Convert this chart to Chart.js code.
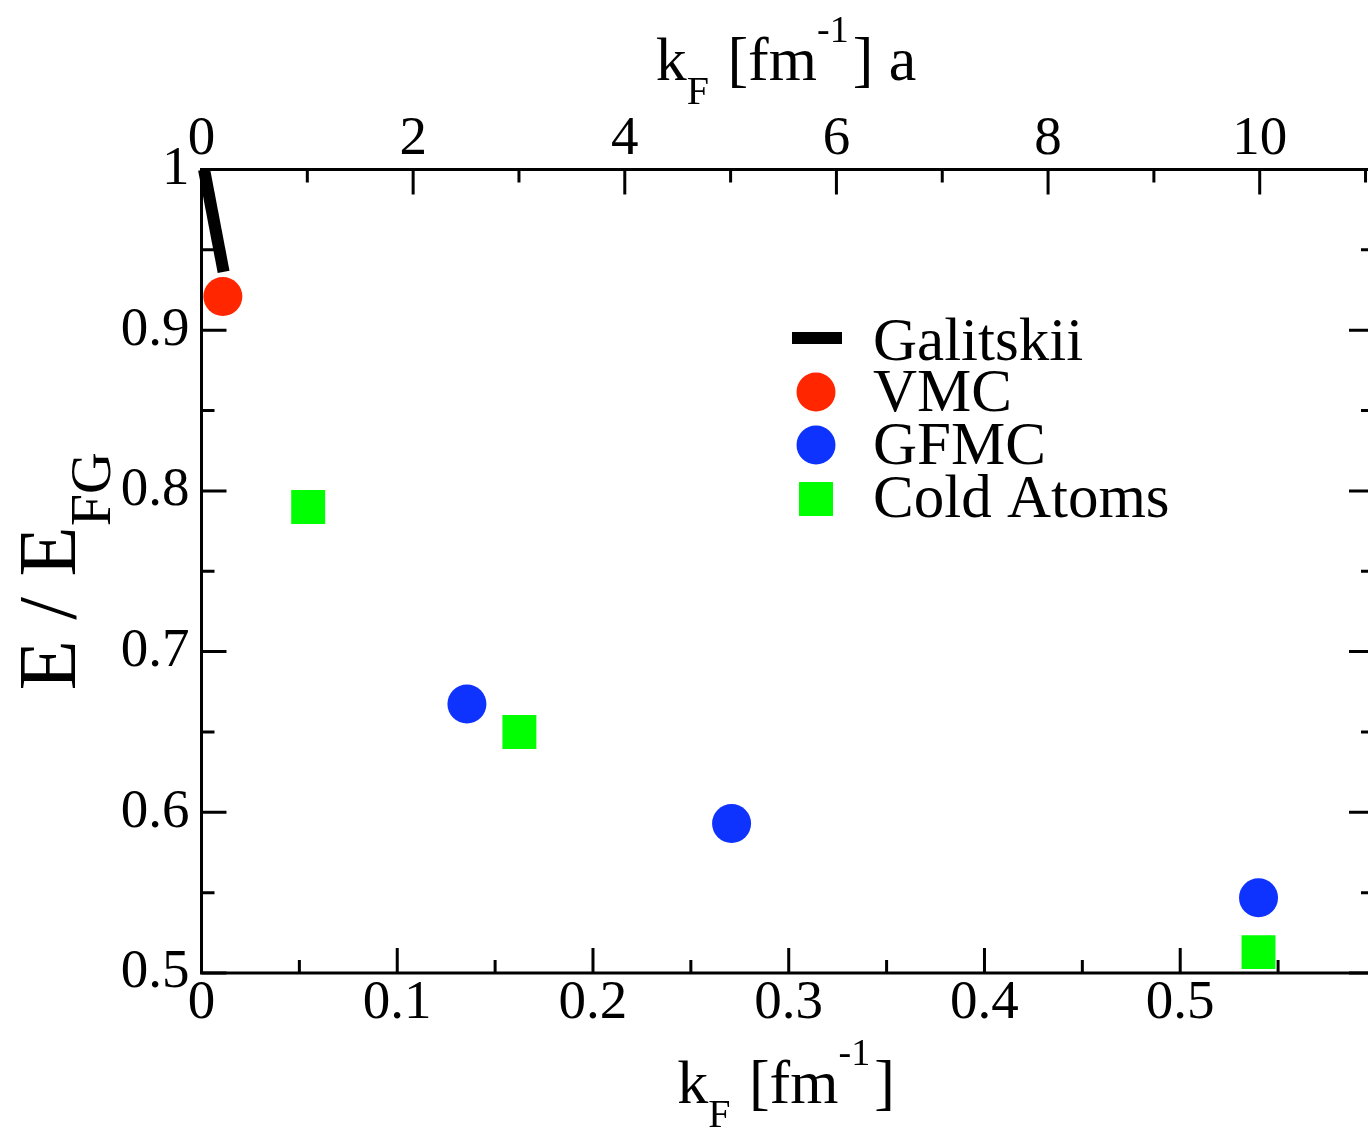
<!DOCTYPE html>
<html><head><meta charset="utf-8">
<style>
html,body{margin:0;padding:0;background:#fff;overflow:hidden;width:1368px;height:1129px}
#wrap{position:absolute;left:0;top:0;width:1398px;height:1129px}
</style>
<script src="https://cdn.jsdelivr.net/npm/chart.js@4.4.1/dist/chart.umd.min.js"></script>
</head><body><div id="wrap"><canvas id="c" width="1398" height="1129"></canvas></div>
<script>
// ---- data ----
const galitskiiX = [0.0013, 0.0113];
const galitskiiY = [1.0, 0.9363];
const vmcX = [0.0109];
const vmcY = [0.921];
const gfmcX = [0.1356, 0.2708, 0.540];
const gfmcY = [0.6674, 0.593, 0.5468];
const coldX = [0.0545, 0.1624, 0.540];
const coldY = [0.790, 0.650, 0.513];
const seriesNames = ['Galitskii', 'VMC', 'GFMC', 'Cold Atoms'];

const xTicks = [0, 0.1, 0.2, 0.3, 0.4, 0.5];
const xTickLabels = ['0', '0.1', '0.2', '0.3', '0.4', '0.5'];
const xMinor = [0.05, 0.15, 0.25, 0.35, 0.45, 0.55];
const topTicks = [0, 2, 4, 6, 8, 10];
const topTickLabels = ['0', '2', '4', '6', '8', '10'];
const topMinor = [1, 3, 5, 7, 9, 11];
const yTicks = [0.5, 0.6, 0.7, 0.8, 0.9, 1.0];
const yTickLabels = ['0.5', '0.6', '0.7', '0.8', '0.9', '1'];
const yMinor = [0.55, 0.65, 0.75, 0.85, 0.95];
const xMin = 0, xMax = 0.599, topMin = 0, topMax = 11.08, yMin = 0.5, yMax = 1.0;

const FONT = '"Liberation Serif", "Times New Roman", serif';
const toPts = (xs, ys) => xs.map((x, i) => ({x: x, y: ys[i]}));

function richWidth(ctx, parts) {
  let w = 0;
  for (const p of parts) { ctx.font = p.size + 'px ' + FONT; w += ctx.measureText(p.t).width + (p.gap || 0); }
  return w;
}
function drawRich(ctx, parts, cx, baseY) {
  const w = richWidth(ctx, parts);
  let x = cx - w / 2;
  ctx.textAlign = 'left'; ctx.textBaseline = 'alphabetic'; ctx.fillStyle = '#000';
  for (const p of parts) {
    ctx.font = p.size + 'px ' + FONT;
    ctx.fillText(p.t, x, baseY + (p.dy || 0));
    x += ctx.measureText(p.t).width + (p.gap || 0);
  }
}

const framePlugin = {
  id: 'frame',
  afterDatasetsDraw(chart) {
    const ctx = chart.ctx, a = chart.chartArea, s = chart.scales;
    ctx.save();
    ctx.strokeStyle = '#000'; ctx.lineWidth = 3; ctx.lineCap = 'butt';
    ctx.beginPath();
    ctx.rect(a.left, a.top, a.right - a.left, a.bottom - a.top);
    ctx.stroke();
    const MAJ = 25, MIN = 13;
    ctx.beginPath();
    const hx = (scale, vals, len, y0, dir) => vals.forEach(v => { const p = scale.getPixelForValue(v); ctx.moveTo(p, y0); ctx.lineTo(p, y0 + dir * len); });
    const vy = (scale, vals, len, x0, dir) => vals.forEach(v => { const p = scale.getPixelForValue(v); ctx.moveTo(x0, p); ctx.lineTo(x0 + dir * len, p); });
    hx(s.x, xTicks, MAJ, a.bottom, -1); hx(s.x, xMinor, MIN, a.bottom, -1);
    hx(s.x2, topTicks, MAJ, a.top, 1); hx(s.x2, topMinor, MIN, a.top, 1);
    vy(s.y, yTicks, MAJ, a.left, 1); vy(s.y, yMinor, MIN, a.left, 1);
    vy(s.y, yTicks, MAJ, a.right, -1); vy(s.y, yMinor, MIN, a.right, -1);
    ctx.stroke();
    ctx.restore();
  },
  afterDraw(chart) {
    const ctx = chart.ctx, a = chart.chartArea;
    ctx.save();
    const cx = 786;
    drawRich(ctx, [{t: 'k', size: 62}, {t: 'F', size: 40, dy: 24, gap: 3}, {t: ' [fm', size: 62}, {t: '-1', size: 38, dy: -38, gap: 4}, {t: '] a', size: 62}], cx, 80);
    drawRich(ctx, [{t: 'k', size: 62}, {t: 'F', size: 40, dy: 24, gap: 3}, {t: ' [fm', size: 62}, {t: '-1', size: 38, dy: -38, gap: 4}, {t: ']', size: 62}], cx, 1103);
    ctx.save();
    ctx.translate(75, (a.top + a.bottom) / 2);
    ctx.rotate(-Math.PI / 2);
    drawRich(ctx, [{t: 'E / E', size: 82}, {t: 'FG', size: 58, dy: 35}], 0, 0);
    ctx.restore();
    // legend
    const lx = 816, rows = [338, 392, 445, 499], tx = 873;
    ctx.strokeStyle = '#000'; ctx.lineWidth = 12;
    ctx.beginPath(); ctx.moveTo(792, rows[0]); ctx.lineTo(842, rows[0]); ctx.stroke();
    ctx.fillStyle = '#ff2600';
    ctx.beginPath(); ctx.arc(lx, rows[1], 19.5, 0, Math.PI * 2); ctx.fill();
    ctx.fillStyle = '#0f33ff';
    ctx.beginPath(); ctx.arc(lx, rows[2], 19.5, 0, Math.PI * 2); ctx.fill();
    ctx.fillStyle = '#00ff00';
    ctx.fillRect(lx - 17, rows[3] - 17, 34, 34);
    ctx.fillStyle = '#000'; ctx.font = '61px ' + FONT; ctx.textAlign = 'left'; ctx.textBaseline = 'alphabetic';
    const bases = [360, 411, 464, 517];
    seriesNames.forEach((n, i) => ctx.fillText(n, tx, bases[i]));
    ctx.restore();
  }
};

const tickFont = {family: FONT, size: 55};
new Chart(document.getElementById('c'), {
  type: 'scatter',
  data: {
    datasets: [
      {label: seriesNames[0], data: toPts(galitskiiX, galitskiiY), showLine: true, borderColor: '#000', borderWidth: 12, borderCapStyle: 'butt', pointRadius: 0, clip: false},
      {label: seriesNames[1], data: toPts(vmcX, vmcY), pointStyle: 'circle', pointRadius: 19.5, backgroundColor: '#ff2600', borderWidth: 0, clip: false},
      {label: seriesNames[2], data: toPts(gfmcX, gfmcY), pointStyle: 'circle', pointRadius: 19.5, backgroundColor: '#0f33ff', borderWidth: 0, clip: false},
      {label: seriesNames[3], data: toPts(coldX, coldY), pointStyle: 'rect', pointRadius: 24, backgroundColor: '#00ff00', borderWidth: 0, clip: false}
    ]
  },
  options: {
    responsive: false, animation: false, devicePixelRatio: 1,
    layout: {padding: {left: 0, right: 6, top: 0, bottom: 0}},
    plugins: {legend: {display: false}, tooltip: {enabled: false}},
    events: [],
    scales: {
      x: {
        type: 'linear', position: 'bottom', min: xMin, max: xMax,
        grid: {display: false}, border: {display: false},
        afterBuildTicks: sc => { sc.ticks = xTicks.map(v => ({value: v})); },
        ticks: {font: tickFont, color: '#000', padding: -10, maxRotation: 0, autoSkip: false,
          callback: (v, i) => xTickLabels[i]},
        afterFit: sc => { sc.height = 156; }
      },
      x2: {
        type: 'linear', position: 'top', min: topMin, max: topMax,
        grid: {display: false}, border: {display: false},
        afterBuildTicks: sc => { sc.ticks = topTicks.map(v => ({value: v})); },
        ticks: {font: tickFont, color: '#000', padding: -11, maxRotation: 0, autoSkip: false,
          callback: (v, i) => topTickLabels[i]},
        afterFit: sc => { sc.height = 169.5; }
      },
      y: {
        type: 'linear', position: 'left', min: yMin, max: yMax,
        grid: {display: false}, border: {display: false},
        afterBuildTicks: sc => { sc.ticks = yTicks.map(v => ({value: v})); },
        ticks: {font: tickFont, color: '#000', padding: 4, autoSkip: false,
          callback: (v, i) => yTickLabels[i]},
        afterFit: sc => { sc.width = 201.5; }
      }
    }
  },
  plugins: [framePlugin]
});
</script></body></html>
